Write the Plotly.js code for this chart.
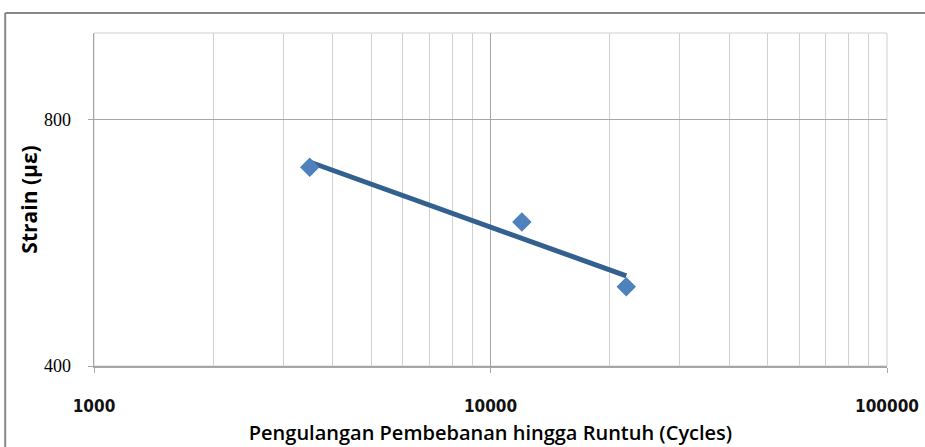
<!DOCTYPE html>
<html>
<head>
<meta charset="utf-8">
<script src="https://cdn.plot.ly/plotly-3.0.1.min.js"></script>
<style>html,body{margin:0;padding:0;background:#fff;}#chart{width:925px;height:447px;}</style>
</head>
<body>
<div id="chart"></div>
<script>
// Data
const cycles = [3500, 12000, 22000];
const strain = [700, 600, 500];
const xMajorTicks = [1000, 10000, 100000];
const xMajorLabels = ['1000', '10000', '100000'];
const xMinorTicks = [2000,3000,4000,5000,6000,7000,8000,9000,20000,30000,40000,50000,60000,70000,80000,90000];
const yTicks = [400, 800];
const yLabels = ['400', '800'];

// Power trendline (least squares in log-log space)
const lx = cycles.map(Math.log), ly = strain.map(Math.log);
const n = lx.length;
const mx = lx.reduce((a,b)=>a+b,0)/n, my = ly.reduce((a,b)=>a+b,0)/n;
let sxy=0, sxx=0;
for (let i=0;i<n;i++){ sxy+=(lx[i]-mx)*(ly[i]-my); sxx+=(lx[i]-mx)**2; }
const b = sxy/sxx, a = my - b*mx;
const xMin = Math.min(...cycles), xMax = Math.max(...cycles);
const trendX = [], trendY = [];
for (let i=0;i<=40;i++){
  const x = Math.exp(Math.log(xMin) + (Math.log(xMax)-Math.log(xMin))*i/40);
  trendX.push(x); trendY.push(Math.exp(a + b*Math.log(x)));
}

const traces = [
  {x: trendX, y: trendY, mode:'lines', line:{color:'#32608F', width:5}, hoverinfo:'skip', showlegend:false},
  {x: cycles, y: strain, mode:'markers', marker:{symbol:'diamond', size:15, color:'#4F81BD'}, showlegend:false}
];

const layout = {
  width:925, height:447,
  margin:{l:94, r:38, t:33, b:81},
  paper_bgcolor:'#ffffff', plot_bgcolor:'#ffffff',
  showlegend:false,
  xaxis:{
    type:'log', range:[3, 5],
    tickmode:'array', tickvals:xMajorTicks, ticktext:xMajorLabels,
    showgrid:true, gridcolor:'#A6A6A6', gridwidth:1,
    minor:{tickmode:'array', tickvals:xMinorTicks, showgrid:true, gridcolor:'#D0D0D0', gridwidth:1, ticks:''},
    ticks:'outside', ticklen:5, tickcolor:'#A6A6A6',
    ticklabelstandoff:19,
    showline:true, linecolor:'#A6A6A6', linewidth:1.5,
    zeroline:false,
    tickfont:{family:'"Liberation Sans Narrow", "DejaVu Sans Condensed", Arial, sans-serif', size:17, weight:700, color:'#111'},
    title:{text:'Pengulangan Pembebanan hingga Runtuh (Cycles)', standoff:11,
      font:{family:'"Open Sans", "Noto Sans", sans-serif', size:20, weight:600, color:'#000'}}
  },
  yaxis:{
    type:'log', range:[Math.log10(400), Math.log10(1022)],
    tickmode:'array', tickvals:yTicks, ticktext:yLabels,
    showgrid:true, gridcolor:'#A6A6A6', gridwidth:1,
    ticks:'outside', ticklen:5, tickcolor:'#A6A6A6',
    ticklabelstandoff:13,
    showline:true, linecolor:'#A6A6A6', linewidth:1.5,
    zeroline:false,
    tickfont:{family:'"Liberation Serif", "DejaVu Serif", serif', size:18, color:'#000'},
    title:{text:'<b>Strain (με)</b>', standoff:0,
      font:{family:'"Open Sans", "Noto Sans", sans-serif', size:21, color:'#000'}}
  },
  shapes:[
    {type:'line', xref:'paper', yref:'paper', x0:-0.112, x1:1.2, y0:1.06, y1:1.06, line:{color:'#888888', width:2}},
    {type:'line', xref:'paper', yref:'paper', x0:-0.112, x1:-0.112, y0:1.06, y1:-0.5, line:{color:'#888888', width:2}},
    {type:'rect', xref:'paper', yref:'paper', x0:0, x1:1, y0:0, y1:1, line:{color:'#D0D0D0', width:1}, layer:'below'}
  ]
};

Plotly.newPlot('chart', traces, layout, {displayModeBar:false, staticPlot:true});
</script>
</body>
</html>
